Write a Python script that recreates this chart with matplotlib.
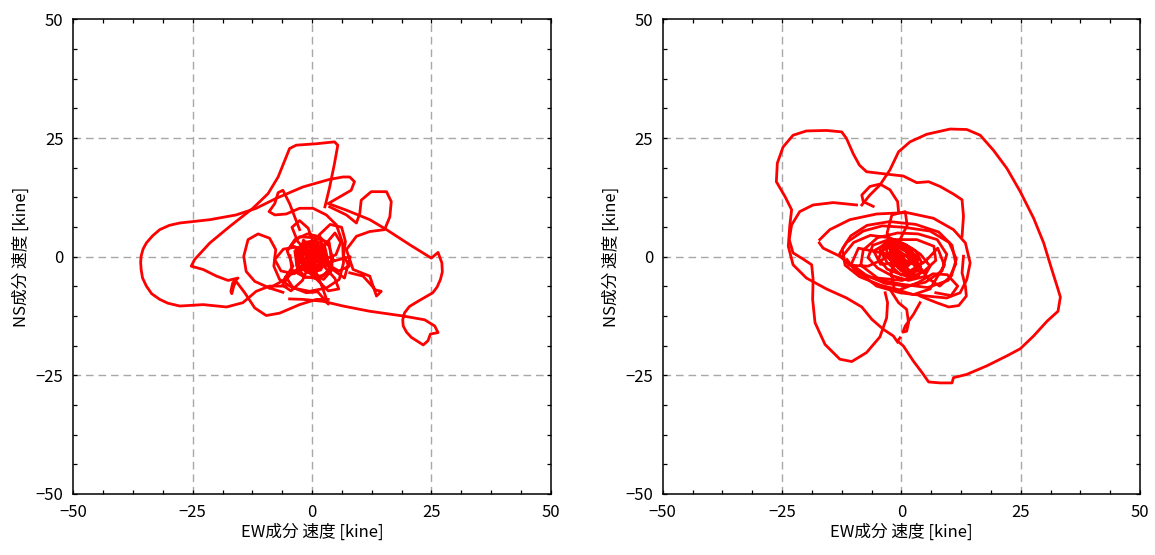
import matplotlib.pyplot as plt
import numpy as np
from matplotlib.ticker import MultipleLocator

plt.rcParams['font.family'] = ['Noto Sans CJK JP', 'DejaVu Sans']

# ---- left panel: traced orbit pieces (EW, NS) in kine ----
left_outer = [(-5.4,-6.2),(-8.9,-6.2),(-11.7,-7.3),(-14.5,-9.7),(-17.9,-10.6),(-22.8,-10.1),
              (-27.7,-10.4),(-30.2,-9.8),(-31.9,-9.0),(-33.6,-7.8),(-34.7,-6.2),(-35.5,-4.5),
              (-35.8,-2.7),(-35.9,-1.2),(-35.8,0.1),(-35.4,1.6),(-34.7,2.9),(-33.4,4.4),
              (-31.9,5.7),(-29.9,6.6),(-27.7,7.1),(-21.4,7.8),(-15.9,8.8),(-11.7,10.2),(-7.5,12.3),
              (-1.9,14.7),(3.7,16.3),(6.5,16.8),(7.9,16.8),(8.9,15.8),(8.2,14.0),(5.8,12.6),(3.4,11.2),
              (7.2,9.8),(12.1,7.8),(15.6,5.7),(20.5,2.5),(25.0,-0.3),(26.4,0.9),(27.2,-1.3),
              (27.3,-3.2),(26.9,-4.8),(26.2,-6.4),(25.3,-7.6),(22.2,-9.4),(20.4,-10.5),(19.4,-11.8),
              (19.0,-13.3),(19.1,-14.6),(19.8,-15.9),(20.8,-17.0),
              (23.3,-18.6),(24.3,-17.7),(24.8,-16.3),(26.4,-16.0),(25.7,-14.6),(23.6,-13.3),
              (19.1,-12.5),(12.1,-11.5),(6.5,-10.4),(2.3,-9.4),(-1.9,-9.0),(-4.7,-8.9)]
left_top = [(2.7,10.5),(3.7,14.7),(4.7,19.6),(5.4,23.5),(4.7,24.2),(0.9,23.8),(-3.3,23.5),
            (-4.7,22.8),(-5.7,20.3),(-7.1,16.8),(-9.2,13.3),(-12.4,10.2),(-17.2,6.4),
            (-21.4,2.9),(-24.6,-0.6),(-25.3,-2.0),(-22.8,-2.7),(-20.0,-4.1),(-17.6,-5.0),
            (-15.5,-4.5),(-16.6,-5.5),(-17.0,-7.3),(-16.8,-7.8),(-16.4,-6.2),(-15.9,-5.2),
            (-14.1,-7.6),(-12.0,-10.8),(-9.6,-12.4),(-6.8,-11.9),(-2.6,-10.1),(0.9,-9.0),
            (3.4,-9.0)]
left_right = [(3.7,10.5),(7.2,8.8),(9.3,7.1),(10.0,9.1),(10.3,11.9),(12.4,13.7),(15.6,13.7),
              (16.6,11.6),(16.3,8.4),(15.2,5.7),(12.1,5.3),(9.3,4.3),(7.2,1.5),(8.6,-2.7),
              (12.1,-4.1),(12.8,-6.2),(13.5,-8.3),(14.5,-7.3),(13.3,-7.0),(10.7,-4.1),(7.9,-3.4)]
left_inner = [(-2.6,5.7),(-4.7,11.2),(-6.1,14.0),(-7.1,13.5),(-7.8,11.2),(-9.0,9.5),(-7.8,8.8),
              (-5.4,9.0),(-2.6,10.2),(0.2,10.2),(3.0,8.8),(5.1,6.7),(6.4,2.9),(6.6,-1.3),
              (5.7,-4.8),(3.0,-6.6),(-0.5,-7.3),(-4.0,-6.6),(-6.8,-4.8),(-8.0,-2.0),(-7.6,1.5),
              (-8.9,3.9),(-11.3,4.8),(-13.4,3.6),(-14.3,0.1),(-13.8,-3.1),(-12.0,-5.2),
              (-8.9,-6.6),(-6.1,-7.5)]
left_core = [(-8.9,-6.6),(-6.0,-5.0),(-4.0,-2.0),(-5.2,1.2),(-3.6,3.6),(-1.0,4.8),(1.6,4.2),
             (3.6,2.2),(4.4,-0.6),(3.4,-3.2),(1.0,-4.6),(-1.6,-4.2),(-3.2,-2.0),(-3.0,0.8),
             (-1.2,2.6),(1.0,2.8),(2.6,1.2),(2.8,-1.0),(1.4,-2.6),(-0.6,-2.8),(-2.0,-1.4),
             (-1.8,0.6),(-0.2,1.6),(1.2,0.8),(1.0,-0.8),(-0.6,-1.0),(-0.8,0.4),(0.6,0.6),
             (2.5,-2.0),(4.8,-4.6),(5.6,-6.8),(3.4,-7.2),(1.2,-5.0),(-1.5,-2.5),(-4.6,-3.8),
             (-6.2,-6.0),(-4.4,-7.2),(-2.0,-5.0),(-0.5,-1.5),(0.4,2.5),(-0.8,6.0),(-2.6,7.6),
             (-4.2,6.2),(-3.0,3.2),(-0.2,0.2),(2.8,2.6),(4.8,5.0),(6.0,3.0),(5.0,0.4),
             (2.0,-0.8),(-1.0,0.4),(-3.4,2.0),(-6.0,1.6),(-7.8,-0.6),(-6.5,-3.0),(-3.8,-3.6),
             (-1.0,-2.0),(1.0,0.0),(2.2,2.0),(1.5,4.6),(3.8,6.8),(6.2,6.2),(7.0,3.2),(6.6,0.2),
             (7.8,-2.0),(5.6,-3.0),(3.0,-1.5),(0.5,1.2),(-1.8,3.5),(-2.4,1.0),(-1.2,-1.8),
             (0.5,-3.6),(2.4,-4.8),(4.0,-3.0),(3.0,0.2),(0.8,1.6),(-0.9,-0.2),(0.2,-1.6),
             (1.6,-0.4),(0.6,0.9),(-0.4,0.1),(0.3,-0.5),(-5.5,-4.2),(-4.0,-6.5),(-1.2,-7.6),
             (1.2,-7.4),(3.4,-10.0),(2.0,-6.0),(0.3,-2.0),(8.0,0.0),(6.8,-4.5),(-0.5,0.8)]
left_knot = [(-2.5,0.5),(-1.0,2.8),(1.2,2.2),(2.4,0.0),(1.0,-2.4),(-1.6,-2.0),(-2.8,0.8),
             (-0.6,3.0),(1.8,1.6),(2.0,-1.4),(-0.4,-2.8),(-2.6,-1.0),(-1.8,2.0),(0.6,2.6),
             (2.8,0.8),(1.6,-2.0),(-1.0,-2.6),(-3.0,-0.2),(-1.2,1.4),(0.8,1.0),(1.0,-0.6),
             (-0.6,-1.2),(-1.4,0.4),(0.0,1.8),(1.6,0.4),(0.4,-1.8),(-2.0,-1.6),(-2.2,1.4),
             (-0.2,2.2),(2.2,1.8),(3.0,-1.0),(0.8,-3.2),(-2.4,-2.6),(-3.4,0.6),(-1.6,3.0),
             (0.6,3.4),(2.6,2.4),(3.2,-0.2),(1.8,-2.8),(-0.8,-3.4),(-3.2,-1.8),(-3.6,1.2),
             (-2.0,2.6),(-0.2,0.6),(0.4,-0.4),(-0.4,-0.2),(0.2,0.8),(1.4,-1.2),(-1.2,-0.8),
             (-0.8,1.0),(-4.4,2.4),(-2.6,4.2),(0.4,4.0),(3.6,3.0),(4.2,-1.8),(2.4,-4.0),
             (-1.4,-4.4),(-4.2,-2.8),(-4.6,0.2)]

# ---- right panel ----
right_big = [(-8.3,10.9),(-6.6,13.0),(-4.5,15.1),(-2.4,18.3),(-0.6,22.1),(1.8,24.2),(5.3,25.8),
             (10.2,26.9),(13.7,26.8),(16.5,25.6),(19.3,22.4),(22.1,18.6),(24.9,13.7),(27.7,8.1),
             (29.8,2.9),(31.5,-2.7),(32.6,-6.2),(33.3,-8.5),(32.8,-11.5),(30.5,-13.6),
             (27.7,-16.7),(24.9,-19.4),(22.1,-20.9),(17.9,-23.0),(13.7,-24.8),(10.9,-25.5),
             (10.6,-26.6),(8.1,-26.6),(5.7,-26.4),(4.3,-24.4),(2.5,-22.0),(0.4,-18.8),
             (-0.8,-17.8),(-0.3,-17.1)]
right_left = [(12.7,4.3),(13.0,8.5),(12.7,12.0),(10.9,13.2),(8.1,14.8),(5.7,15.8),(3.2,15.6),
              (0.4,17.0),(-3.1,17.4),(-7.3,17.9),(-8.8,19.3),(-10.1,21.7),(-11.5,24.9),
              (-12.5,26.3),(-15.7,26.6),(-19.9,26.5),(-22.7,25.6),(-24.8,23.1),(-26.0,19.7),
              (-26.2,15.8),(-24.4,12.7),(-23.0,9.9),(-23.4,6.4),(-23.7,2.2),(-22.7,-1.7),
              (-19.9,-4.5),(-15.7,-6.8),(-11.5,-8.7),(-8.3,-10.6),(-6.2,-13.2),(-3.8,-15.3),
              (-1.7,-16.7),(-0.8,-18.0)]
right_low = [(-9.4,10.9),(-14.3,11.4),(-18.5,10.9),(-21.3,9.5),(-23.0,6.7),(-23.5,3.6),
             (-22.7,0.8),(-20.6,-0.5),(-18.8,-1.7),(-18.5,-4.8),(-18.6,-9.0),(-18.1,-13.9),
             (-16.0,-18.5),(-12.9,-21.6),(-10.4,-22.1),(-7.3,-20.2),(-4.5,-16.9),(-3.1,-12.9),
             (-2.9,-9.7),(-3.4,-7.6)]
right_mid = [(-17.2,2.9),(-16.4,1.8),(-12.9,0.1),(-8.7,-3.4),(-5.2,-6.2),(-0.3,-7.6),(5.3,-8.3),
             (9.5,-8.7),(12.3,-7.6),(13.7,-4.8),(14.4,-1.3),(13.4,2.9),(10.9,5.7),(6.7,8.1),
             (1.1,9.3),(-5.2,9.0),(-10.8,7.8),(-15.0,5.7),(-17.1,3.6)]
right_cap = [(-5.9,10.6),(-8.0,11.6),(-8.3,13.0),(-6.6,14.8),(-4.5,15.3),(-2.4,14.1),
             (-0.8,11.6),(-0.6,9.5)]
right_tail = [(3.9,-8.3),(7.4,-9.7),(9.9,-10.6),(12.0,-10.3),(13.6,-8.3),(13.4,-6.2),
              (12.7,-3.4),(13.0,0.1)]
right_stem = [(-2.4,-6.9),(-0.6,-9.7),(1.1,-11.1),(1.5,-13.9),(1.1,-15.7),(0.3,-15.9),
              (0.8,-14.6),(2.5,-12.2),(3.9,-9.7)]
right_loops = [(-11.4,-0.6),(-9.3,-3.4),(-5.1,-4.8),(0.0,-5.8),(5.5,-6.5),(9.8,-5.0),
               (11.4,-1.5),(10.6,2.4),(7.8,5.2),(3.0,6.8),(-2.5,7.4),(-7.2,6.6),(-10.6,4.4),
               (-12.4,1.6),(-11.8,-1.8),(-8.8,-4.2),(-4.4,-6.0),(-0.4,-7.0),(3.6,-5.4),
               (6.6,-3.6),(9.6,-3.8),(11.8,-6.2),(10.4,-8.2),(7.2,-7.6)]
right_core = [(-12.0,0.5),(-10.0,3.0),(-6.5,4.5),(-2.5,4.0),(1.0,2.5),(4.0,0.5),(6.0,-2.0),
              (4.8,-4.2),(1.5,-5.0),(-2.0,-4.0),(-5.0,-2.4),(-7.0,-0.2),(-6.0,2.4),(-3.2,3.4),
              (0.2,2.8),(3.0,1.2),(4.2,-1.2),(2.8,-3.2),(0.0,-3.8),(-3.0,-2.6),(-4.8,-0.4),
              (-3.8,1.8),(-1.2,2.2),(1.4,1.0),(2.2,-1.2),(0.6,-2.6),(-1.8,-1.6),(-2.6,0.4),
              (-1.0,1.4),(0.6,0.2),(-0.2,-1.0),(-1.2,0.2),(-9.0,1.8),(-10.5,-1.6),(-7.5,-3.8),
              (-3.5,-5.6),(1.0,-6.2),(5.0,-5.4),(8.5,-3.0),(9.5,0.5),(7.5,3.6),(3.5,4.8),
              (-0.8,5.0),(-5.0,4.0),(-8.0,1.4),(-8.5,-1.8),(-5.0,-4.5),(0.2,-5.0),(4.6,-3.2),
              (7.2,-0.8),(6.8,2.2),(3.2,3.6),(-1.8,3.6),(-5.8,1.2),(-4.4,-1.6),(0.0,-1.2),
              (3.4,-1.6),(5.6,-4.6),(8.0,-6.2),(10.5,-4.0),(11.5,-0.5),(10.0,3.0),(6.0,5.4),
              (0.5,6.2),(-4.0,6.5),(-8.0,5.4),(-11.5,3.0),(-13.0,0.5),(-11.0,-1.8),(-7.0,-2.0),
              (-3.5,-0.4),(-0.5,3.2),(1.2,6.6),(0.8,9.5),(-2.0,8.8),(-3.0,5.0),(-1.5,0.0),
              (1.8,-3.0),(5.0,-1.0),(7.6,1.8),(9.0,-1.8),(6.0,-6.8),(2.5,-8.0),(-1.5,-6.8),
              (-2.2,-3.0),(-0.6,-0.4),(-1.0,0.8)]
right_knot = [(-3.6,2.2),(-1.4,2.6),(0.8,1.2),(2.6,-1.0),(3.4,-3.0),(1.6,-3.6),(-0.6,-2.2),
              (-2.8,-0.2),(-3.2,1.8),(-1.0,1.6),(1.2,0.0),(3.0,-2.2),(2.0,-4.0),(0.0,-3.0),
              (-2.0,-1.0),(-4.0,1.0),(-2.6,3.0),(0.0,2.2),(2.2,0.2),(4.0,-2.0),(3.6,-4.2),
              (1.0,-3.0),(-1.6,-0.6),(-2.4,1.2),(-0.4,0.6),(1.4,-1.4),(0.4,-2.2),(-1.2,-0.2),
              (-2.2,2.4),(0.4,1.8),(2.8,-0.4),(4.4,-3.0),(2.4,-4.6),(-0.4,-3.6),(-3.0,-1.2),
              (-4.6,1.6),(-3.0,3.4),(-0.6,3.2),(1.8,1.4),(3.8,-0.6),(0.6,-1.0),(-0.8,0.4)]

panels = [
    [left_outer, left_top, left_right, left_inner, left_core, left_knot],
    [right_big, right_left, right_low, right_mid, right_cap, right_tail, right_stem,
     right_loops, right_core, right_knot],
]
ticks = [-50, -25, 0, 25, 50]

fig = plt.figure(figsize=(11.55, 5.55), dpi=100)
lefts = [0.0635, 0.5738]

for left, pieces in zip(lefts, panels):
    ax = fig.add_axes([left, 0.110, 0.4133, 0.855])
    for seg in pieces:
        xy = np.array(seg)
        ax.plot(xy[:, 0], xy[:, 1], color='red', lw=2.0, solid_joinstyle='round', zorder=3)
    ax.set_xlim(-50, 50)
    ax.set_ylim(-50, 50)
    ax.set_xticks(ticks)
    ax.set_yticks(ticks)
    ax.xaxis.set_minor_locator(MultipleLocator(6.25))
    ax.yaxis.set_minor_locator(MultipleLocator(6.25))
    ax.tick_params(which='both', direction='in', top=True, right=True, width=0.9, length=3)
    ax.tick_params(which='major', labelsize=12, pad=7)
    for t in [-25, 0, 25]:
        ax.axvline(t, color='#a8a8a8', lw=1.0, dashes=(5.5, 3.5), zorder=1)
        ax.axhline(t, color='#a8a8a8', lw=1.0, dashes=(5.5, 3.5), zorder=1)
    for s in ax.spines.values():
        s.set_linewidth(1.1)
    ax.set_xlabel('EW成分 速度 [kine]', fontsize=12, labelpad=2)
    ax.set_ylabel('NS成分 速度 [kine]', fontsize=12, labelpad=4)

plt.savefig('out.png', dpi=100)
